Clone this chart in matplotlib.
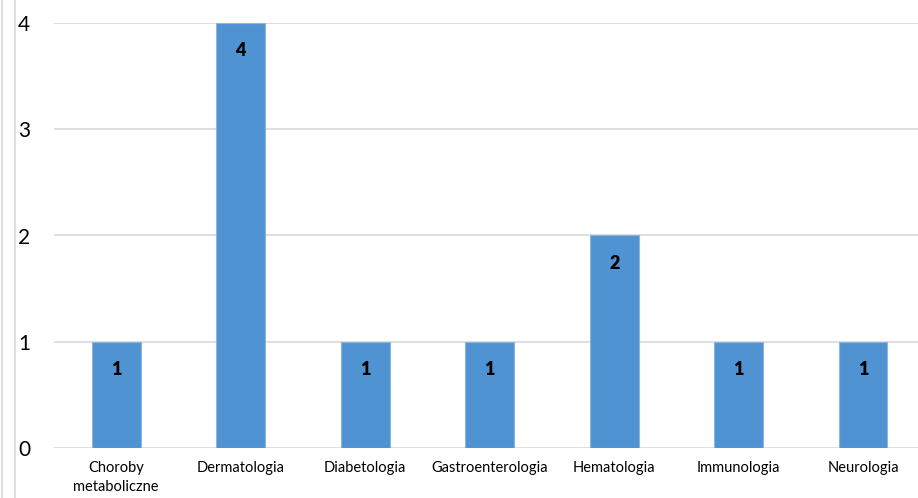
import matplotlib.pyplot as plt
from matplotlib.lines import Line2D

plt.rcParams['font.family'] = ['Lato', 'DejaVu Sans']

categories = ['Choroby\nmetaboliczne', 'Dermatologia', 'Diabetologia', 'Gastroenterologia',
              'Hematologia', 'Immunologia', 'Neurologia']
counts = [1, 4, 1, 1, 2, 1, 1]
y_ticks = [0, 1, 2, 3, 4]

W, H = 918, 498
fig = plt.figure(figsize=(W / 100, H / 100), dpi=100)
ax = fig.add_axes([54 / W, 1 - 448 / H, (918 - 54) / W, (448 - 23) / H])

x = list(range(len(categories)))
ax.bar(x, counts, width=0.39, color='#5093D3', edgecolor='#8BB6E0', linewidth=0.8, zorder=3)

for xi, v in zip(x, counts):
    ax.annotate(str(v), (xi, v), xytext=(0, -28), textcoords='offset pixels',
                ha='center', va='center', fontsize=13, fontweight='heavy', color='black', zorder=4)

ax.set_xlim(-0.5, 6.44)
ax.set_ylim(0, 4)
ax.set_yticks(y_ticks)
ax.set_yticklabels([str(t) for t in y_ticks], fontsize=15)
ax.set_xticks(x)
ax.set_xticklabels(categories, fontsize=10.5, linespacing=1.5)
ax.tick_params(axis='both', length=0)
ax.tick_params(axis='y', pad=17)
ax.tick_params(axis='x', pad=9)
ax.grid(axis='y', color='#D9D9D9', linewidth=1.2, zorder=0)
for s in ax.spines.values():
    s.set_visible(False)

for px in (2, 15):
    fig.add_artist(Line2D([px / W, px / W], [0, 1], color='#D9D9D9', linewidth=1.2))

fig.savefig('out.png', dpi=100)
